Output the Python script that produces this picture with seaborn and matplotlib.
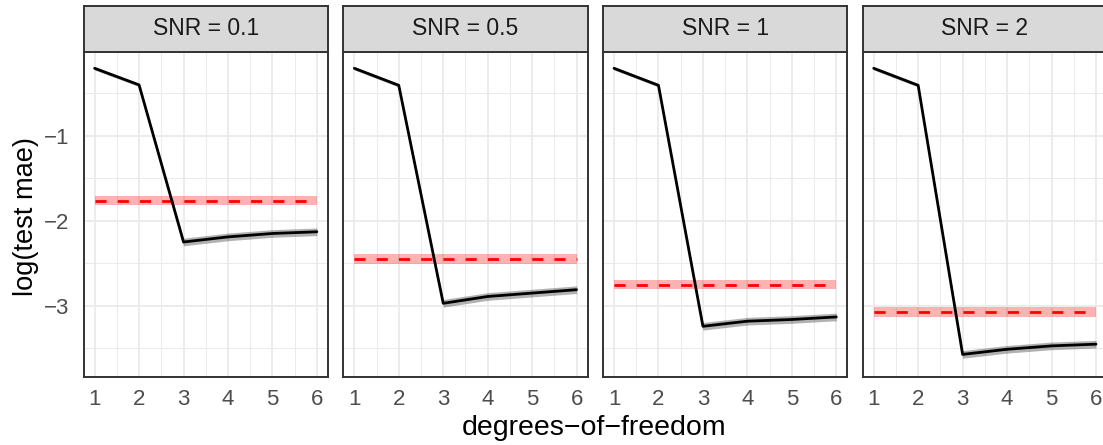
import numpy as np
import pandas as pd
import matplotlib
matplotlib.use('Agg')
import matplotlib.pyplot as plt
import seaborn as sns
from matplotlib.ticker import MultipleLocator

# ── Data ──────────────────────────────────────────────────────────────────────
dof = [1, 2, 3, 4, 5, 6]
snr_labels = ['0.1', '0.5', '1', '2']

fit_snr01 = [-0.21, -0.405, -2.25, -2.19, -2.15, -2.13]
fit_snr05 = [-0.21, -0.41, -2.97, -2.89, -2.85, -2.81]
fit_snr1  = [-0.21, -0.41, -3.24, -3.18, -3.16, -3.13]
fit_snr2  = [-0.21, -0.41, -3.57, -3.51, -3.47, -3.45]
fit_se    = [0.02, 0.02, 0.045, 0.045, 0.045, 0.045]

baseline    = [-1.766, -2.45, -2.75, -3.07]
baseline_se = [0.055, 0.055, 0.055, 0.055]

fits = [fit_snr01, fit_snr05, fit_snr1, fit_snr2]

rows = []
for snr, fit, base, bse in zip(snr_labels, fits, baseline, baseline_se):
    for d, f, s in zip(dof, fit, fit_se):
        rows.append({'snr': snr, 'dof': d, 'fit': f, 'fit_se': s,
                     'base': base, 'base_se': bse})
df = pd.DataFrame(rows)

# ── Style ─────────────────────────────────────────────────────────────────────
sns.set_theme(style='white')
plt.rcParams['font.family'] = ['Liberation Sans', 'DejaVu Sans']
plt.rcParams['axes.unicode_minus'] = True

border = '#333333'
fig = plt.figure(figsize=(11.03, 4.45), dpi=100)

W, H = 1103, 445
left0, step, pw = 83.5, 259.7, 244.5
ptop, pbot = 51.7, 376.7
stop = 5.7

for i, snr in enumerate(snr_labels):
    sub = df[df['snr'] == snr]
    x0 = left0 + i * step
    ax = fig.add_axes([x0 / W, 1 - pbot / H, pw / W, (pbot - ptop) / H])

    ax.fill_between(sub['dof'], sub['fit'] - sub['fit_se'], sub['fit'] + sub['fit_se'],
                    color='black', alpha=0.3, lw=0, zorder=2)
    ax.fill_between(sub['dof'], sub['base'] - sub['base_se'], sub['base'] + sub['base_se'],
                    color='red', alpha=0.3, lw=0, zorder=2)
    sns.lineplot(data=sub, x='dof', y='base', color='red', lw=2.0, ax=ax,
                 zorder=3).lines[-1].set_dashes((4, 4))
    sns.lineplot(data=sub, x='dof', y='fit', color='black', lw=2.0, ax=ax, zorder=4)

    ax.set_xlim(0.75, 6.25)
    ax.set_ylim(-3.832, -0.015)
    ax.xaxis.set_major_locator(MultipleLocator(1))
    ax.xaxis.set_minor_locator(MultipleLocator(0.5))
    ax.yaxis.set_major_locator(MultipleLocator(1))
    ax.yaxis.set_minor_locator(MultipleLocator(0.5))
    ax.grid(which='major', color='#EBEBEB', lw=1.3)
    ax.grid(which='minor', color='#EBEBEB', lw=0.7)
    ax.set_axisbelow(True)
    for sp in ax.spines.values():
        sp.set_color(border)
        sp.set_linewidth(1.4)

    ax.tick_params(axis='x', which='major', direction='out', length=5, width=1.2,
                   color=border, labelcolor='#4D4D4D', labelsize=16, pad=4)
    ax.tick_params(which='minor', length=0)
    if i == 0:
        ax.tick_params(axis='y', which='major', direction='out', length=5, width=1.2,
                       color=border, labelcolor='#4D4D4D', labelsize=16, pad=5)
    else:
        ax.tick_params(axis='y', which='major', length=0, labelleft=False)
    ax.set_xlabel('')
    ax.set_ylabel('')

    # facet strip
    sax = fig.add_axes([x0 / W, 1 - ptop / H, pw / W, (ptop - stop) / H])
    sax.set_facecolor('#D9D9D9')
    sax.set_xticks([])
    sax.set_yticks([])
    for sp in sax.spines.values():
        sp.set_color(border)
        sp.set_linewidth(1.4)
    sax.text(0.5, 0.5, f'SNR = {snr}', ha='center', va='center',
             fontsize=16.5, color='#1A1A1A', transform=sax.transAxes)

fig.text(594 / W, 1 - 428 / H, 'degrees\u2212of\u2212freedom', ha='center', va='center',
         fontsize=20.5, color='black')
fig.text(26 / W, 1 - 216 / H, 'log(test mae)', ha='center', va='center',
         rotation=90, fontsize=19.6, color='black')

fig.savefig('out.png', dpi=100)
